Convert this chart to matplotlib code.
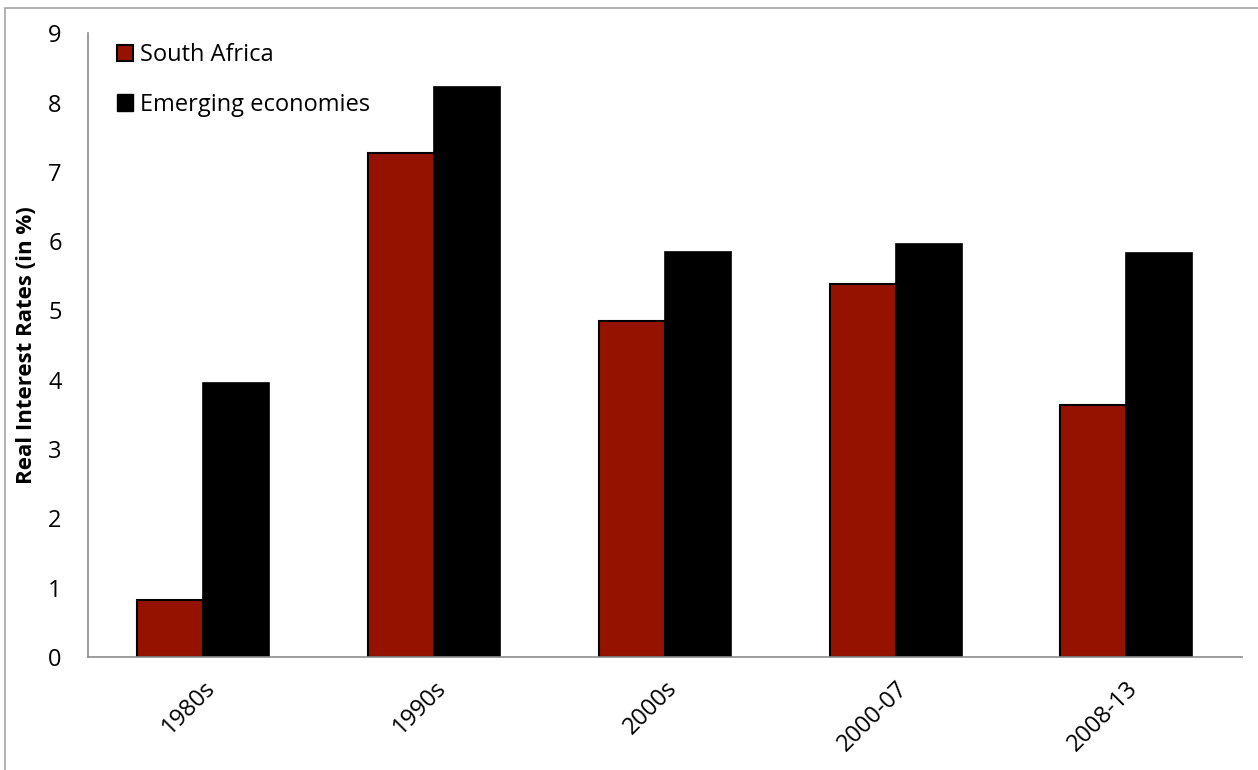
import numpy as np
import matplotlib.pyplot as plt
from matplotlib.patches import Rectangle, Patch

periods = ['1980s', '1990s', '2000s', '2000-07', '2008-13']
south_africa = [0.82, 7.27, 4.85, 5.38, 3.63]
emerging = [3.95, 8.22, 5.84, 5.96, 5.83]

plt.rcParams['font.family'] = ['Open Sans', 'DejaVu Sans']

fig = plt.figure(figsize=(12.58, 7.70), dpi=100)
ax = fig.add_axes([0.070, 0.1468, 0.917, 0.810])

x = np.arange(len(periods))
w = 0.286
ax.bar(x - w / 2, south_africa, w, color='#961200', edgecolor='black', linewidth=1.5,
       label='South Africa')
ax.bar(x + w / 2, emerging, w, color='black', edgecolor='black', linewidth=1.2,
       label='Emerging economies')

ax.set_xlim(-0.5, len(periods) - 0.5)
ax.set_ylim(0, 9)
ax.set_yticks(range(0, 10))
ax.set_xticks(x)
ax.set_xticklabels(periods, rotation=45, ha='right', rotation_mode='anchor', fontsize=17)
ax.tick_params(axis='y', labelsize=17, length=0, pad=19)
ax.tick_params(axis='x', length=0, pad=14)
ax.set_ylabel('Real Interest Rates (in %)', fontsize=16, fontweight='bold')
ax.yaxis.set_label_coords(-0.044, 0.5)

for s in ['top', 'right']:
    ax.spines[s].set_visible(False)
for s in ['left', 'bottom']:
    ax.spines[s].set_color('#8c8c8c')
    ax.spines[s].set_linewidth(1.2)

handles = [Patch(facecolor='#961200', edgecolor='black', linewidth=1.5),
           Patch(facecolor='black', edgecolor='black')]
ax.legend(handles, ['South Africa', 'Emerging economies'], loc='upper left',
          bbox_to_anchor=(29 / 1154, 1 - 10 / 624), frameon=False, fontsize=17,
          borderpad=0, borderaxespad=0,
          handlelength=0.68, handleheight=0.68, handletextpad=0.3, labelspacing=1.08)

fig.patches.append(Rectangle((5 / 1258, -0.05), 1.1, 1 - 8 / 770 + 0.05,
                             transform=fig.transFigure, fill=False,
                             edgecolor='#a6a6a6', linewidth=1.2))

fig.savefig('out.png', dpi=100)
